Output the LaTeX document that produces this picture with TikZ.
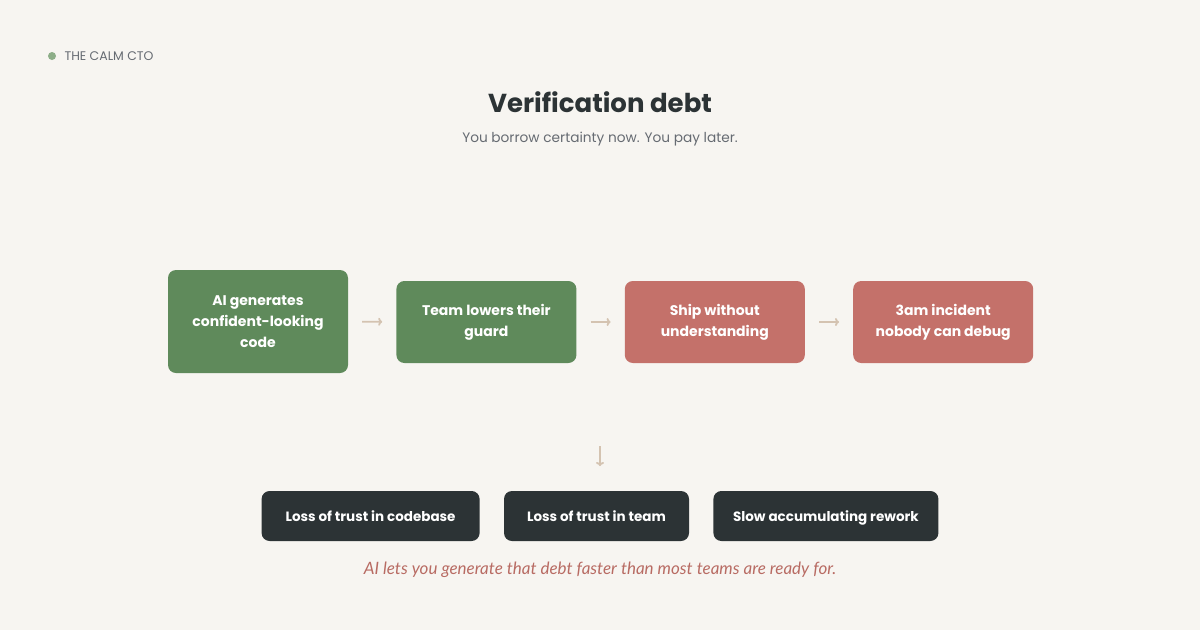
\documentclass[tikz,border=0pt]{standalone}
\usepackage{fontspec}
\setmainfont{Poppins}
\newfontfamily\notefont{Lato}
\usepackage{tikz}
\usetikzlibrary{positioning,arrows.meta}

\definecolor{paper}{HTML}{F7F5F1}
\definecolor{leafgreen}{HTML}{5F8A5B}
\definecolor{dotgreen}{HTML}{8DAE88}
\definecolor{clayred}{HTML}{C4716A}
\definecolor{slate}{HTML}{2C3335}
\definecolor{greytext}{HTML}{666B72}
\definecolor{sand}{HTML}{D4C3B1}
\definecolor{notered}{HTML}{B86B63}

\begin{document}
\begin{tikzpicture}[x=1pt,y=-1pt]

\tikzstyle{flowbox} = [rounded corners=8pt, text=white, align=center, minimum width=180pt, minimum height=82pt, font=\fontsize{14}{21}\selectfont\bfseries]
\tikzstyle{greenbox} = [flowbox, fill=leafgreen]
\tikzstyle{redbox} = [flowbox, fill=clayred]
\tikzstyle{debtbox} = [rounded corners=8pt, fill=slate, text=white, minimum height=50pt, text height=12pt, text depth=1pt, font=\fontsize{13.5}{16}\selectfont\bfseries]
\tikzstyle{flowarrow} = [draw=sand, line width=1.8pt, -{To[length=4pt,width=8pt]}, shorten <=14pt, shorten >=14pt]

% page
\useasboundingbox[fill=paper] (0,0) rectangle (1200,630);

% brand and heading
\fill[dotgreen] (52,56) circle (4pt);
\node[anchor=west, text=greytext, font=\fontsize{12.5}{13}\selectfont] (brand) at (61,56.5) {THE CALM CTO};
\node[text=slate, font=\fontsize{26}{29}\selectfont\bfseries] (title) at (600,102) {Verification debt};
\node[text=greytext, font=\fontsize{13.7}{16}\selectfont] (subtitle) at (600,139) {You borrow certainty now. You pay later.};

% the chain
\node[greenbox, minimum height=103pt] (p1) at (258,321.5) {AI generates\\confident-looking\\code};
\node[greenbox, right=48pt of p1, yshift=-0.5pt] (p2) {Team lowers their\\guard};
\node[redbox, right=48pt of p2] (p3) {Ship without\\understanding};
\node[redbox, right=48pt of p3] (p4) {3am incident\\nobody can debug};

\draw[flowarrow] (p1) -- (p2);
\draw[flowarrow] (p2) -- (p3);
\draw[flowarrow] (p3) -- (p4);

% what it costs
\node[debtbox, minimum width=185pt] (c2) at (596.5,516) {Loss of trust in team};
\node[debtbox, minimum width=218pt, left=24pt of c2] (c1) {Loss of trust in codebase};
\node[debtbox, minimum width=225pt, right=24pt of c2] (c3) {Slow accumulating rework};

\coordinate (downtop) at (600,446);
\coordinate (downend) at (600,466);
\draw[draw=sand, line width=1.8pt, -{To[length=4pt,width=8pt]}] (downtop) -- (downend);

\node[text=notered, font=\notefont\itshape\fontsize{17}{20}\selectfont] (note) at (600,570) {AI lets you generate that debt faster than most teams are ready for.};

\end{tikzpicture}
\end{document}
